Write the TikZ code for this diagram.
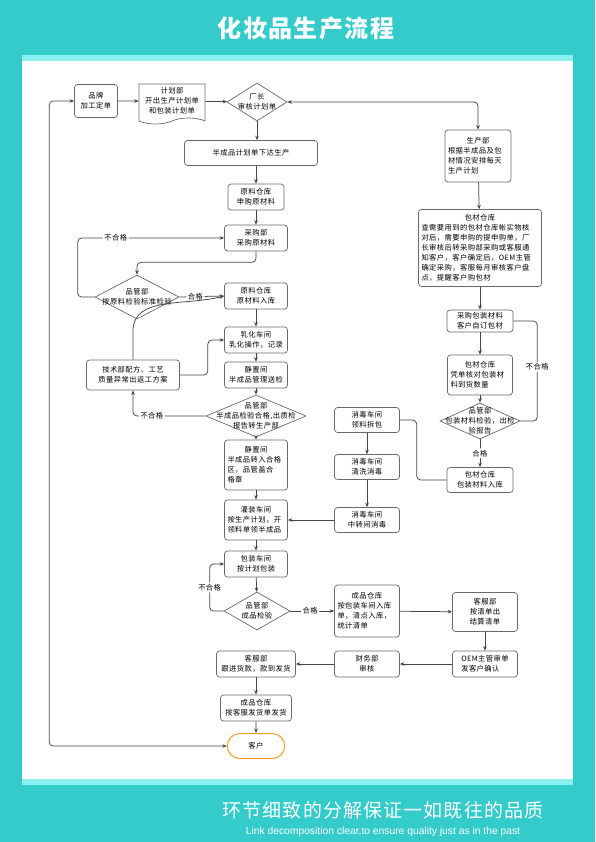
\documentclass[tikz,border=0pt]{standalone}
\usepackage{fontspec}
\setmainfont{Noto Sans CJK SC}[LetterSpace=6]
\newfontfamily\latinsans{Liberation Sans}
\usetikzlibrary{shapes.geometric,shapes.symbols,shapes.misc,arrows.meta,positioning}
\definecolor{flowteal}{RGB}{52,203,203}
\definecolor{flowcyan}{RGB}{140,240,240}
\definecolor{flowgray}{RGB}{105,105,105}
\definecolor{flowline}{RGB}{70,70,70}
\definecolor{floworange}{RGB}{238,160,40}
\newcommand{\boxhead}[1]{\hfill#1\hfill\mbox{}}

\begin{document}
\begin{tikzpicture}[x=1pt, y=-1pt,
  font=\fontsize{7.3}{10}\selectfont,
  >={Stealth[length=4.5pt,width=3.6pt]},
  box/.style={draw=flowgray, line width=0.7pt, rounded corners=3pt, align=center,
    inner sep=1pt, minimum width=63pt, minimum height=26pt},
  lbox/.style={box, align=left, inner sep=3pt},
  dia/.style={diamond, draw=flowgray, line width=0.7pt, inner sep=0pt},
  diatext/.style={align=center, inner sep=0pt},
  line/.style={draw=flowline, line width=0.75pt, rounded corners=4pt},
  lab/.style={fill=white, inner sep=1.5pt}]

  % background and panel
  \fill[flowteal] (0,0) rectangle (595,842);
  \fill[flowcyan] (22,55) rectangle (573,785);
  \fill[white] (22,61) rectangle (573,779);
  \node[text=white, font=\fontsize{24}{24}\selectfont\bfseries] (title) at (306,28) {化妆品生产流程};
  \node[text=white, font=\fontsize{19}{19}\selectfont] (motto) at (383,810) {环节细致的分解保证一如既往的品质};
  \node[text=white, font=\latinsans\fontsize{10.3}{11}\selectfont] (mottoen) at (383,832) {Link decomposition clear,to ensure quality just as in the past};

  % main column
  \node[box, minimum width=43pt, minimum height=33pt] (brand) at (96,101) {品牌\\加工定单};
  \node[tape, draw=flowgray, line width=0.7pt, tape bend top=none, tape bend height=6pt,
    minimum width=66pt, minimum height=40pt, align=center, inner sep=1pt] (plan) at (172,101) {计划部\\开出生产计划单\\和包装计划单};
  \node[dia, minimum width=60pt, minimum height=38pt] (fac) at (257,102) {};
  \node[diatext] (factxt) at (fac) {厂长\\审核计划单};
  \node[box, minimum width=133pt, minimum height=25pt] (semi) at (251,153) {半成品计划单下达生产};
  \node[box, minimum width=56pt] (rawreq) at (256,197) {原料仓库\\申购原材料};
  \node[box] (buy) at (256,238) {采购部\\采购原材料};
  \node[dia, minimum width=84pt, minimum height=44pt] (qcraw) at (137,297) {};
  \node[diatext] (qcrawtxt) at (qcraw) {品管部\\按原料检验标准检验};
  \node[box] (rawin) at (256,296) {原料仓库\\原材料入库};
  \node[box, minimum width=93pt, minimum height=30pt] (tech) at (133,375) {技术部配方、工艺\\质量异常出返工方案};
  \node[box] (emul) at (256,340) {乳化车间\\乳化操作，记录};
  \node[box] (rest) at (256,375) {静置间\\半成品管理送检};
  \node[dia, minimum width=100pt, minimum height=42pt] (qcsemi) at (256,416) {};
  \node[diatext] (qcsemitxt) at (qcsemi) {品管部\\半成品检验合格,出质检\\报告转生产部};
  \node[lbox, text width=57pt, minimum height=50pt] (hold) at (256,465) {\boxhead{静置间}\\半成品转入合格\\区，品管盖合\\格章};
  \node[lbox, text width=57pt, minimum height=40pt] (fill) at (256,520) {\boxhead{灌装车间}\\按生产计划，开\\领料单领半成品};
  \node[box] (pack) at (256,564) {包装车间\\按计划包装};
  \node[dia, minimum width=66pt, minimum height=38pt] (qcprod) at (257,611) {};
  \node[diatext] (qcprodtxt) at (qcprod) {品管部\\成品检验};
  \node[lbox, text width=59pt, minimum height=52pt] (store) at (367,611) {\boxhead{成品仓库}\\按包装车间入库\\单，清点入库，\\统计清单};
  \node[box, minimum width=65pt, minimum height=39pt] (cserv) at (485,612) {客服部\\按清单出\\结算清单};
  \node[box, align=left, minimum width=65pt] (oem) at (485,664) {OEM主管审单\\发客户确认};
  \node[box, minimum width=65pt] (fin) at (367,664) {财务部\\审核};
  \node[box, minimum width=79pt] (payfol) at (256,664) {客服部\\跟进货款，款到发货};
  \node[box, minimum width=71pt] (ship) at (256,708) {成品仓库\\按客服发货单发货};
  \node[rounded rectangle, draw=floworange, line width=1pt, minimum width=64pt, minimum height=25pt] (cust) at (256,746) {客户};

  % packaging column
  \node[lbox, text width=60pt, minimum height=52pt] (prod) at (478,156) {\boxhead{生产部}\\根据半成品及包\\材情况安排每天\\生产计划};
  \node[lbox, text width=117pt, minimum height=77pt] (pkstore) at (480,248) {\boxhead{包材仓库}\\查需要用到的包材仓库帐实物核\\对后，需要申购的提申购单，厂\\长审核后转采购部采购或客服通\\知客户，客户确定后，OEM主管\\确定采购，客服每月审核客户盘\\点，提醒客户购包材};
  \node[box, minimum width=66pt, minimum height=22pt] (pkbuy) at (480,321) {采购包装材料\\客户自订包材};
  \node[lbox, text width=59pt, minimum height=40pt] (pkcheck) at (480,375) {\boxhead{包材仓库}\\凭单核对包装材\\料到货数量};
  \node[dia, minimum width=80pt, minimum height=36pt] (qcpk) at (480,421) {};
  \node[diatext] (qcpktxt) at (qcpk) {品管部\\包装材料检验，出检\\验报告};
  \node[box, minimum width=66pt, minimum height=25pt] (pkin) at (480,480) {包材仓库\\包装材料入库};
  \node[box, minimum width=65pt, minimum height=25pt] (dis1) at (367,420) {消毒车间\\领料拆包};
  \node[box, minimum width=65pt, minimum height=25pt] (dis2) at (367,467) {消毒车间\\清洗消毒};
  \node[box, minimum width=65pt, minimum height=25pt] (dis3) at (367,520) {消毒车间\\中转间消毒};

  % connectors
  \draw[line,->] (brand) -- (plan);
  \draw[line,->] (plan) -- (fac);
  \draw[line,<->] (brand.west) -- ++(-25,0) |- (cust.west);
  \draw[line,<->] (fac.east) -| (prod.north);
  \draw[line,->] (fac) -- (fac |- semi.north);
  \draw[line,->] (semi.south -| rawreq) -- (rawreq);
  \draw[line,->] (rawreq) -- (buy);
  \draw[line,->] (buy.south) -- ++(0,11) -| (qcraw.north);
  \draw[line,->] (qcraw.west) -- ++(-17,0) |- (buy.west) node[lab, pos=0.63] (nok1) {不合格};
  \draw[line,->] (qcraw.east) -- (rawin.west) node[lab, pos=0.36] (ok1) {合格};
  \draw[line,->] (tech.north) -- ++(0,-25) to[out=90, in=195] (rawin.west);
  \draw[line,->] (tech.east) -- ++(28,0) |- (emul.west);
  \draw[line,->] (rawin) -- (emul);
  \draw[line,->] (emul) -- (rest);
  \draw[line,->] (rest) -- (qcsemi);
  \draw[line,->] (qcsemi.west) -| (tech.south) node[lab, pos=0.37] (nok2) {不合格};
  \draw[line,->] (qcsemi) -- (hold);
  \draw[line,->] (hold) -- (fill);
  \draw[line,->] (fill) -- (pack);
  \draw[line,->] (pack) -- (qcprod);
  \draw[line,->] (qcprod.west) -- ++(-14,0) |- (pack.west) node[lab, pos=0.25] (nok3) {不合格};
  \draw[line,->] (qcprod.east) -- (store.west) node[lab, pos=0.45] (ok2) {合格};
  \draw[line,->] (store) -- (cserv);
  \draw[line,->] (cserv) -- (oem);
  \draw[line,->] (oem) -- (fin);
  \draw[line,->] (fin) -- (payfol);
  \draw[line,->] (payfol) -- (ship);
  \draw[line,->] (ship) -- (cust);
  \draw[line,->] (prod) -- (pkstore);
  \draw[line,->] (pkstore) -- (pkbuy);
  \draw[line,->] (pkbuy) -- (pkcheck);
  \draw[line,->] (pkcheck) -- (qcpk);
  \draw[line] (pkbuy.east) -- ++(24,0) |- (qcpk.east) node[lab, pos=0.23] (nok4) {不合格};
  \draw[line,->] (qcpk) -- (pkin) node[lab, pos=0.5] (ok3) {合格};
  \draw[line] (pkin.west) -- ++(-30,0) |- (dis1.east);
  \draw[line,->] (dis1) -- (dis2);
  \draw[line,->] (dis2) -- (dis3);
  \draw[line,->] (dis3) -- (fill);
\end{tikzpicture}
\end{document}
